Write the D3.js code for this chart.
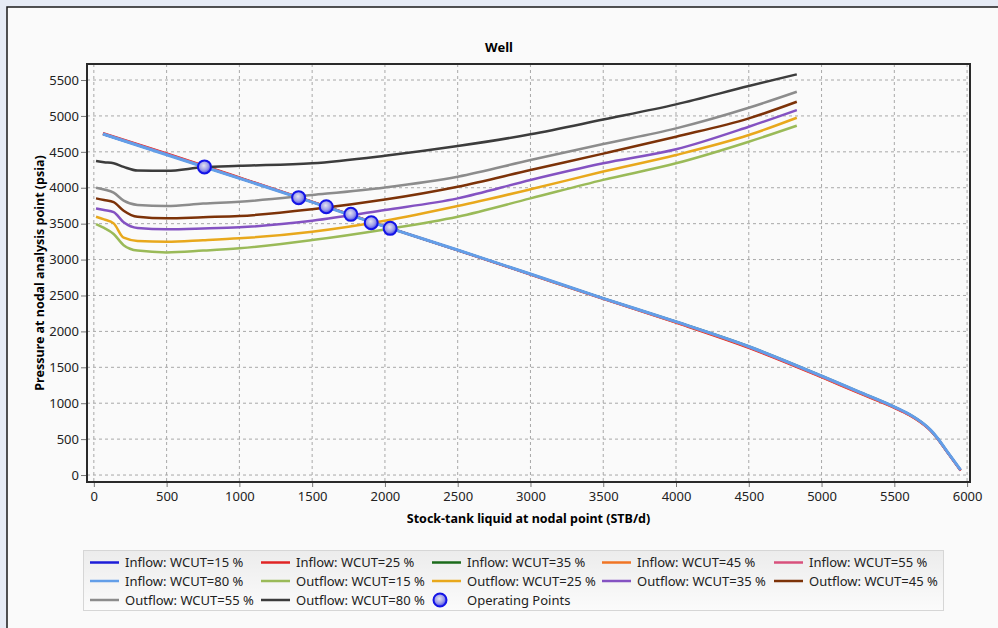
<!DOCTYPE html>
<html>
<head>
<meta charset="utf-8">
<script src="https://cdn.jsdelivr.net/npm/d3@7"></script>
<style>
  body { margin: 0; background: #e6ebf5; }
  svg { display: block; font-family: "Noto Sans", "Open Sans", sans-serif; }
</style>
</head>
<body>
<div id="chart"></div>
<script>
// inflow curves (IPR), one per water cut
let inflowX = [63, 500, 1000, 1500, 2000, 2500, 3000, 3500, 4000, 4500, 5000, 5250, 5500, 5600, 5700, 5750, 5800, 5850, 5900, 5955];
let inflow15 = [4745, 4462, 4133, 3801, 3460, 3131, 2797, 2458, 2132, 1786, 1376, 1160, 946, 846, 711, 621, 501, 361, 221, 68];
let inflow25 = [4760, 4478, 4145, 3808, 3462, 3128, 2790, 2450, 2120, 1770, 1360, 1145, 935, 836, 702, 613, 494, 355, 216, 62];
let inflow35 = [4748, 4465, 4135, 3802, 3461, 3132, 2798, 2462, 2136, 1792, 1382, 1166, 950, 850, 715, 625, 505, 365, 225, 70];
let inflow45 = [4752, 4470, 4138, 3804, 3460, 3129, 2792, 2454, 2126, 1778, 1366, 1152, 940, 840, 706, 617, 498, 358, 219, 64];
let inflow55 = [4755, 4473, 4140, 3805, 3461, 3130, 2794, 2456, 2128, 1781, 1370, 1155, 942, 842, 708, 619, 499, 359, 220, 66];
let inflow80 = [4748, 4460, 4131, 3800, 3459, 3133, 2799, 2460, 2135, 1790, 1380, 1165, 950, 850, 715, 625, 505, 365, 225, 72];

// outflow curves (VLP), one per water cut
let outflowX = [15, 70, 136, 205, 300, 500, 750, 1000, 1500, 2000, 2500, 3000, 3500, 4000, 4500, 4830];
let outflow15 = [3495, 3440, 3356, 3200, 3125, 3100, 3125, 3157, 3272, 3420, 3597, 3852, 4110, 4340, 4641, 4864];
let outflow25 = [3597, 3560, 3504, 3304, 3260, 3249, 3270, 3296, 3388, 3541, 3745, 3978, 4225, 4456, 4734, 4975];
let outflow35 = [3713, 3690, 3660, 3520, 3440, 3421, 3432, 3449, 3540, 3690, 3852, 4108, 4340, 4535, 4850, 5082];
let outflow45 = [3852, 3830, 3800, 3680, 3595, 3574, 3590, 3606, 3700, 3835, 4014, 4247, 4475, 4711, 4966, 5198];
let outflow55 = [4000, 3975, 3931, 3820, 3760, 3745, 3780, 3805, 3899, 4005, 4154, 4386, 4610, 4827, 5114, 5337];
let outflow80 = [4372, 4355, 4340, 4290, 4240, 4235, 4285, 4305, 4340, 4446, 4581, 4744, 4950, 5161, 5416, 5579];

// operating points
let opX = [760, 1407, 1597, 1766, 1906, 2036];
let opY = [4290, 3862, 3736, 3630, 3513, 3435];

let xTicks = d3.range(0, 6001, 500);
let yTicks = d3.range(0, 5501, 500);

let series = [
    { name: "Inflow: WCUT=15 %", xs: inflowX, ys: inflow15, colour: "#1c1cd8", w: 2.2 },
    { name: "Inflow: WCUT=25 %", xs: inflowX, ys: inflow25, colour: "#e02424", w: 2.2 },
    { name: "Inflow: WCUT=35 %", xs: inflowX, ys: inflow35, colour: "#1b6b1b", w: 2.2 },
    { name: "Inflow: WCUT=45 %", xs: inflowX, ys: inflow45, colour: "#f07424", w: 2.2 },
    { name: "Inflow: WCUT=55 %", xs: inflowX, ys: inflow55, colour: "#d8507c", w: 2.2 },
    { name: "Inflow: WCUT=80 %", xs: inflowX, ys: inflow80, colour: "#639ee8", w: 3 },
    { name: "Outflow: WCUT=15 %", xs: outflowX, ys: outflow15, colour: "#9aba58", w: 2.5 },
    { name: "Outflow: WCUT=25 %", xs: outflowX, ys: outflow25, colour: "#e8a81c", w: 2.5 },
    { name: "Outflow: WCUT=35 %", xs: outflowX, ys: outflow35, colour: "#8452c2", w: 2.5 },
    { name: "Outflow: WCUT=45 %", xs: outflowX, ys: outflow45, colour: "#7c3208", w: 2.5 },
    { name: "Outflow: WCUT=55 %", xs: outflowX, ys: outflow55, colour: "#8c8c8c", w: 2.5 },
    { name: "Outflow: WCUT=80 %", xs: outflowX, ys: outflow80, colour: "#3c3c3c", w: 2.5 }
];

const width = 998, height = 628;
const plotLeft = 87, plotRight = 970, plotTop = 64, plotBottom = 482;

var svg = d3.select("#chart").append("svg")
    .attr("width", width)
    .attr("height", height);

// outer panel
svg.append("rect")
    .attr("x", 7).attr("y", 7)
    .attr("width", width).attr("height", height)
    .attr("fill", "#fafafa")
    .attr("stroke", "#1a1a1a")
    .attr("stroke-width", 1.5);

var defs = svg.append("defs");
var grad = defs.append("radialGradient").attr("id", "opFill")
    .attr("cx", "45%").attr("cy", "40%").attr("r", "60%");
grad.append("stop").attr("offset", "0%").attr("stop-color", "#e4e4f0");
grad.append("stop").attr("offset", "60%").attr("stop-color", "#9a9ae8");
grad.append("stop").attr("offset", "100%").attr("stop-color", "#3a3aee");

var legGrad = defs.append("linearGradient").attr("id", "legFill")
    .attr("x1", 0).attr("y1", 0).attr("x2", 0).attr("y2", 1);
legGrad.append("stop").attr("offset", "0%").attr("stop-color", "#ececec");
legGrad.append("stop").attr("offset", "100%").attr("stop-color", "#fbfbfb");

var x = d3.scaleLinear().domain([-47, 6020]).range([plotLeft, plotRight]);
var y = d3.scaleLinear().domain([-97, 5723]).range([plotBottom, plotTop]);

// grid
var grid = svg.append("g");
grid.selectAll(".vg").data(xTicks).enter().append("line")
    .attr("x1", d => x(d)).attr("x2", d => x(d))
    .attr("y1", plotTop).attr("y2", plotBottom)
    .attr("stroke", "#a8a8a8").attr("stroke-dasharray", "3,3");
grid.selectAll(".hg").data(yTicks).enter().append("line")
    .attr("x1", plotLeft).attr("x2", plotRight)
    .attr("y1", d => y(d)).attr("y2", d => y(d))
    .attr("stroke", "#a8a8a8").attr("stroke-dasharray", "3,3");

// axes
var xAxis = svg.append("g")
    .attr("transform", "translate(0," + plotBottom + ")")
    .call(d3.axisBottom(x).tickValues(xTicks).tickFormat(d3.format("d"))
        .tickSize(5).tickSizeOuter(0).tickPadding(5));
var yAxis = svg.append("g")
    .attr("transform", "translate(" + plotLeft + ",0)")
    .call(d3.axisLeft(y).tickValues(yTicks).tickFormat(d3.format("d"))
        .tickSize(6).tickSizeOuter(0).tickPadding(2));
[xAxis, yAxis].forEach(function(a) {
    a.select(".domain").remove();
    a.selectAll(".tick line").attr("stroke", "#777");
    a.selectAll("text").attr("fill", "#222").style("font-size", "13px")
        .style("font-family", "'Noto Sans', sans-serif");
});

// curves
var line = d3.line()
    .curve(d3.curveMonotoneX)
    .x(d => x(d[0]))
    .y(d => y(d[1]));

svg.append("g").selectAll("path")
    .data(series)
    .enter().append("path")
    .attr("d", s => line(s.xs.map((v, i) => [v, s.ys[i]])))
    .attr("fill", "none")
    .attr("stroke", s => s.colour)
    .attr("stroke-width", s => s.w)
    .attr("stroke-linejoin", "round");

// operating points
svg.append("g").selectAll("circle")
    .data(opX.map((v, i) => [v, opY[i]]))
    .enter().append("circle")
    .attr("cx", d => x(d[0]))
    .attr("cy", d => y(d[1]))
    .attr("r", 6.5)
    .attr("fill", "url(#opFill)")
    .attr("stroke", "#1414e6")
    .attr("stroke-width", 2);

// plot frame
svg.append("rect")
    .attr("x", plotLeft).attr("y", plotTop)
    .attr("width", plotRight - plotLeft).attr("height", plotBottom - plotTop)
    .attr("fill", "none")
    .attr("stroke", "#2a2a2a")
    .attr("stroke-width", 2);

// titles
svg.append("text")
    .attr("x", 499).attr("y", 52)
    .attr("text-anchor", "middle")
    .style("font-size", "13px").style("font-weight", "bold")
    .text("Well");
svg.append("text")
    .attr("x", (plotLeft + plotRight) / 2).attr("y", 523)
    .attr("text-anchor", "middle")
    .style("font-size", "12.5px").style("font-weight", "bold")
    .text("Stock-tank liquid at nodal point (STB/d)");
svg.append("text")
    .attr("transform", "translate(44," + (plotTop + plotBottom) / 2 + ") rotate(-90)")
    .attr("text-anchor", "middle")
    .style("font-size", "12.5px").style("font-weight", "bold")
    .text("Pressure at nodal analysis point (psia)");

// legend
svg.append("rect")
    .attr("x", 83.5).attr("y", 550.5)
    .attr("width", 860).attr("height", 60)
    .attr("fill", "url(#legFill)")
    .attr("stroke", "#d6d6d6");

let legendItems = series.concat([{ name: "Operating Points", marker: true }]);
let colX = [90, 261, 432, 602, 774];
let rowY = [562.5, 581, 600];

var leg = svg.append("g").selectAll("g")
    .data(legendItems)
    .enter().append("g")
    .attr("transform", (d, i) => "translate(" + colX[i % 5] + "," + rowY[Math.floor(i / 5)] + ")");

leg.filter(d => !d.marker).append("line")
    .attr("x1", 0).attr("x2", 29)
    .attr("stroke", d => d.colour)
    .attr("stroke-width", 2.5);
leg.filter(d => d.marker).append("circle")
    .attr("cx", 8).attr("r", 6.5)
    .attr("fill", "url(#opFill)")
    .attr("stroke", "#1414e6")
    .attr("stroke-width", 2);
leg.append("text")
    .attr("x", 35).attr("dy", "0.35em")
    .style("font-size", "13px")
    .attr("fill", "#222")
    .text(d => d.name);
</script>
</body>
</html>
